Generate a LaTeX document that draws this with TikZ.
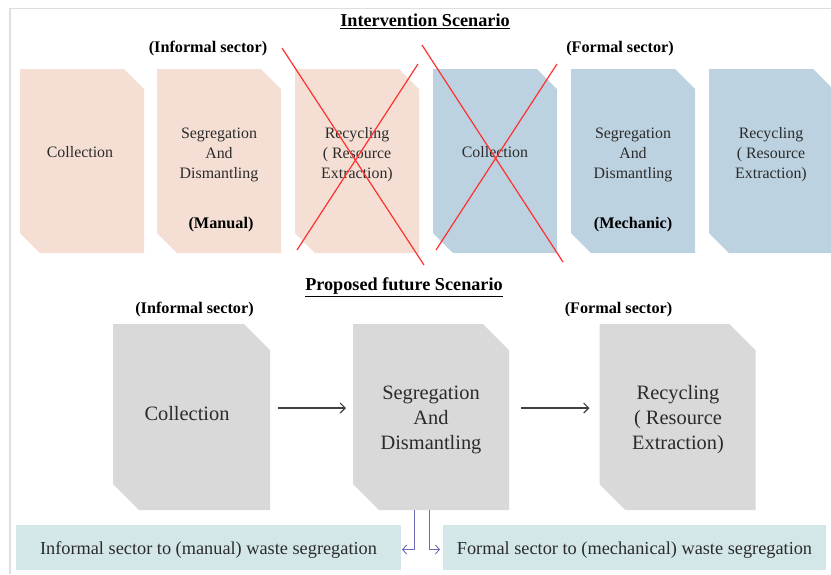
\documentclass[tikz,border=0pt]{standalone}
\usepackage{fontspec}
\setmainfont{Liberation Serif}
\usetikzlibrary{backgrounds,arrows.meta}

\definecolor{peach}{HTML}{F5DFD4}
\definecolor{steel}{HTML}{BDD2E0}
\definecolor{ash}{HTML}{D9D9D9}
\definecolor{mist}{HTML}{D3E7E9}
\definecolor{ink}{HTML}{2B2B2B}
\definecolor{cross}{HTML}{FF3030}
\definecolor{link}{HTML}{6B6BB8}
\definecolor{frameline}{HTML}{DEDEDE}

% box with the north-east and south-west corners cut off
\newcommand\snipfill[3]{%
  \fill[#3] (#1.north west) -- ([xshift=-#2pt]#1.north east)
    -- ([yshift=-#2pt]#1.north east) -- (#1.south east)
    -- ([xshift=#2pt]#1.south west) -- ([yshift=#2pt]#1.south west) -- cycle;}

\tikzset{
  slot/.style={inner sep=0pt, outer sep=0pt, minimum width=124pt, minimum height=184pt},
  bigslot/.style={inner sep=0pt, outer sep=0pt, minimum width=156pt, minimum height=186pt},
  small/.style={font=\fontsize{15.9}{20}\selectfont, text=ink, align=center, inner sep=0pt},
  big/.style={font=\fontsize{20.4}{25}\selectfont, text=ink, align=center, inner sep=0pt},
  tag/.style={font=\fontsize{16.2}{20}\selectfont\bfseries, text=black, inner sep=0pt},
  heading/.style={font=\fontsize{18.2}{22}\selectfont\bfseries, text=black, inner sep=0pt},
  note/.style={fill=mist, minimum height=45pt, inner sep=0pt, outer sep=0pt,
    text height=14.5pt, text depth=0pt,
    font=\fontsize{18.3}{22}\selectfont, text=ink},
  flow/.style={-{Straight Barb[length=5pt,width=10pt]}, draw=black!75, line width=1.1pt},
  split/.style={-{Straight Barb[length=4pt,width=9pt]}, draw=link, line width=0.9pt},
  strike/.style={draw=cross, line width=1.2pt},
}

\begin{document}
\begin{tikzpicture}[x=1pt,y=-1pt]
\useasboundingbox (0,0) rectangle (831,574);
\draw[frameline, line width=1.8pt] (10,574) -- (10,8.5) -- (831,8.5);

% ---- intervention scenario ----
\node[heading] (t1) at (425,21) {\underline{Intervention Scenario}};
\node[tag] (inf1) at (208,49) {(Informal sector)};
\node[tag] (for1) at (620,49) {(Formal sector)};

\node[slot] (s1) at (82,161) {};
\node[slot] (s2) at (219,161) {};
\node[slot] (s3) at (357,161) {};
\node[slot] (s4) at (495,161) {};
\node[slot] (s5) at (633,161) {};
\node[slot] (s6) at (771,161) {};
\begin{scope}[on background layer]
  \snipfill{s1}{20}{peach}
  \snipfill{s2}{20}{peach}
  \snipfill{s3}{20}{peach}
  \snipfill{s4}{20}{steel}
  \snipfill{s5}{20}{steel}
  \snipfill{s6}{20}{steel}
\end{scope}

\node[small] (x1) at (80,152.5) {Collection};
\node[small] (x2) at (219,155) {Segregation\\And\\Dismantling};
\node[tag]   (m1) at (221,225) {(Manual)};
\node[small] (x3) at (357,155) {Recycling\\( Resource\\Extraction)};
\node[small] (x4) at (495,152.5) {Collection};
\node[small] (x5) at (633,155) {Segregation\\And\\Dismantling};
\node[tag]   (m2) at (633,225) {(Mechanic)};
\node[small] (x6) at (771,155) {Recycling\\( Resource\\Extraction)};

% struck-out stages
\draw[strike] (282,48) -- (424,265);
\draw[strike] (297,250) -- (418,64);
\draw[strike] (422,45) -- (563,262);
\draw[strike] (436,250) -- (557,64);

% ---- proposed future scenario ----
\node[heading] (t2) at (404,287) {\underline{Proposed future Scenario}};
\node[tag] (inf2) at (194.5,310) {(Informal sector)};
\node[tag] (for2) at (618.5,310) {(Formal sector)};

\node[bigslot, minimum width=157pt] (gA) at (191.5,417) {};
\node[bigslot] (gB) at (431,417) {};
\node[bigslot] (gC) at (677.5,417) {};
\begin{scope}[on background layer]
  \snipfill{gA}{26}{ash}
  \snipfill{gB}{26}{ash}
  \snipfill{gC}{26}{ash}
\end{scope}

\node[big] (y1) at (187,413.5) {Collection};
\node[big] (y2) at (431,420) {Segregation\\And\\Dismantling};
\node[big] (y3) at (678,420) {Recycling\\( Resource\\Extraction)};

\draw[flow] ([shift={(8pt,9pt)}]gA.east) -- ([shift={(-7pt,9pt)}]gB.west);
\draw[flow] ([shift={(12pt,9pt)}]gB.east) -- ([shift={(-10pt,9pt)}]gC.west);

\node[note, minimum width=385pt] (n1) at (208.5,547.5) {Informal sector to (manual) waste segregation};
\node[note, minimum width=383pt] (n2) at (634.5,547.5) {Formal sector to (mechanical) waste segregation};

\draw[split] ([xshift=-17pt]gB.south) |- ([shift={(1pt,-2pt)}]n1.east);
\draw[split] ([xshift=-2pt]gB.south) |- ([shift={(-3pt,-2pt)}]n2.west);
\end{tikzpicture}
\end{document}
